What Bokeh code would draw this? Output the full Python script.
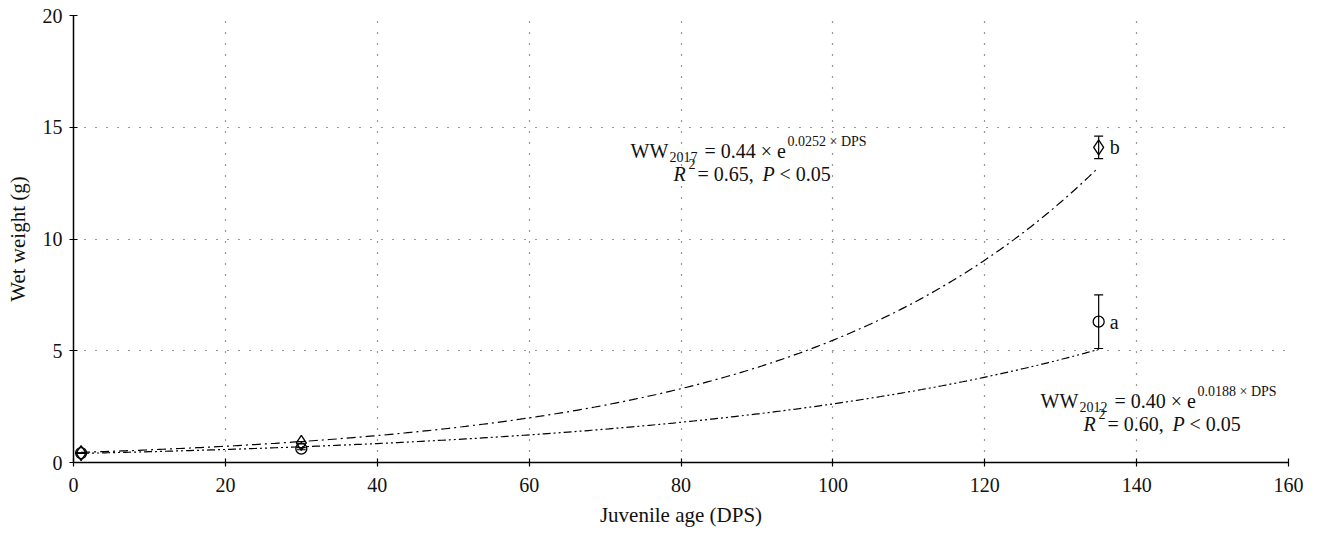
import numpy as np
from bokeh.plotting import figure
from bokeh.models import ColumnDataSource, Whisker, TeeHead, Label, Range1d, FixedTicker
from bokeh.core.properties import value
from bokeh.embed import file_html
from bokeh.resources import INLINE

# ---- data ----
dps = [1, 30, 135]
ww_2012 = [0.42, 0.62, 6.3]
err_2012 = [0.0, 0.05, 1.2]
ww_2017 = [0.42, 0.88, 14.1]
err_2017 = [0.0, 0.05, 0.5]
letters_2012 = ["", "", "a"]
letters_2017 = ["", "", "b"]
fit_2012 = (0.40, 0.0188)
fit_2017 = (0.44, 0.0252)
x_ticks = [0, 20, 40, 60, 80, 100, 120, 140, 160]
y_ticks = [0, 5, 10, 15, 20]

FONT = "Liberation Serif"
W, H = 1319, 537
L, R, T, B = 73, 31, 15, 75
FW, FH = W - L - R, H - T - B

def px2x(px):
    return (px - L) * 160 / FW

def px2y(py):
    return (T + FH - py) * 20 / FH

p = figure(width=W, height=H, output_backend="svg", toolbar_location=None,
           x_range=Range1d(0, 160), y_range=Range1d(0, 20),
           min_border_left=L, min_border_right=R, min_border_top=T, min_border_bottom=B)
p.outline_line_color = None
p.background_fill_color = "white"
p.border_fill_color = "white"

for ax, ticks in ((p.xaxis[0], x_ticks), (p.yaxis[0], y_ticks)):
    ax.ticker = FixedTicker(ticks=ticks)
    ax.minor_tick_line_color = None
    ax.major_tick_in = 4
    ax.major_tick_out = 4
    ax.axis_line_width = 1.5
    ax.axis_line_color = "black"
    ax.major_tick_line_color = "black"
    ax.major_tick_line_width = 1.2
    ax.major_label_text_font = FONT
    ax.major_label_text_font_size = "20px"
    ax.major_label_text_color = "#111"
    ax.axis_label_text_font = FONT
    ax.axis_label_text_font_size = "21px"
    ax.axis_label_text_font_style = "normal"
    ax.axis_label_text_color = "#111"

p.xaxis.major_label_standoff = 11
p.yaxis.major_label_standoff = 7
p.xaxis.axis_label = "Juvenile age (DPS)"
p.yaxis.axis_label = "Wet weight (g)"
p.xaxis.axis_label_standoff = 8
p.yaxis.axis_label_standoff = 10

for g in (p.xgrid[0], p.ygrid[0]):
    g.grid_line_color = "#333"
    g.grid_line_dash = "1 10"
    g.grid_line_width = 1.2

# fitted curves (from printed regression coefficients)
xs = np.linspace(dps[0], dps[-1], 300)
p.line(xs, fit_2017[0] * np.exp(fit_2017[1] * xs), line_color="black",
       line_width=1.2, line_dash="9 4 2 4")
p.line(xs, fit_2012[0] * np.exp(fit_2012[1] * xs), line_color="black",
       line_width=1.2, line_dash="8 3 2 3 2 3")

src12 = ColumnDataSource(dict(x=dps, y=ww_2012,
                              lo=[v - e for v, e in zip(ww_2012, err_2012)],
                              hi=[v + e for v, e in zip(ww_2012, err_2012)],
                              lab=letters_2012))
src17 = ColumnDataSource(dict(x=dps, y=ww_2017,
                              lo=[v - e for v, e in zip(ww_2017, err_2017)],
                              hi=[v + e for v, e in zip(ww_2017, err_2017)],
                              lab=letters_2017))

for src in (src12, src17):
    w = Whisker(base="x", upper="hi", lower="lo", source=src, dimension="height",
                line_color="black", line_width=1.2,
                upper_head=TeeHead(size=9, line_color="black", line_width=1.2),
                lower_head=TeeHead(size=9, line_color="black", line_width=1.2))
    p.add_layout(w)

p.scatter("x", "y", source=src17, marker="diamond", size=15, fill_color=None,
          line_color="black", line_width=1.3)
p.scatter("x", "y", source=src12, marker="circle", size=11, fill_color=None,
          line_color="black", line_width=1.3)

for src in (src12, src17):
    p.text("x", "y", text="lab", source=src, x_offset=11, text_baseline="middle",
           text_font=value(FONT), text_font_size="20px", text_color="#111")

def lab(px, py, txt, size=20, style="normal"):
    p.add_layout(Label(x=px2x(px), y=px2y(py), text=txt, text_font=FONT,
                       text_font_size=f"{size}px", text_font_style=style,
                       text_baseline="alphabetic", text_align="left",
                       text_color="#111"))

def equation(x0, y0, year, a, b, r2):
    lab(x0, y0, "WW")
    lab(x0 + 39, y0 + 6, year, 14)
    lab(x0 + 74, y0, "= %.2f \u00d7 e" % a)
    lab(x0 + 157, y0 - 9, "%.4f \u00d7 DPS" % b, 14)
    lab(x0 + 43, y0 + 23, "R", 20, "italic")
    lab(x0 + 58, y0 + 13, "2", 14)
    lab(x0 + 67, y0 + 23, "= %.2f," % r2)
    lab(x0 + 132, y0 + 23, "P", 20, "italic")
    lab(x0 + 149, y0 + 23, "< 0.05")

equation(630, 150, "2017", fit_2017[0], fit_2017[1], 0.65)
equation(1040, 400, "2012", fit_2012[0], fit_2012[1], 0.60)

open("out.html", "w").write(file_html(p, INLINE))
